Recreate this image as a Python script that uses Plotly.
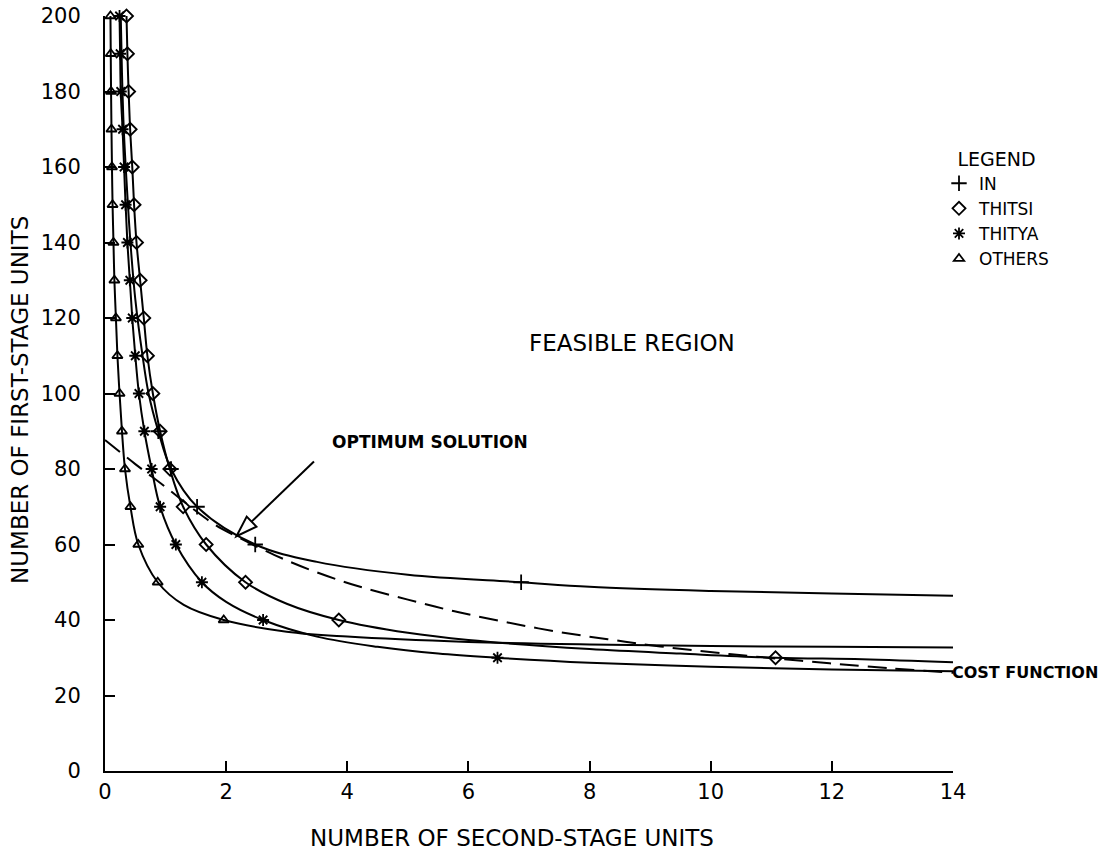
import plotly.graph_objects as go

# ---------------- data ----------------
others_mx = [0.09, 0.095, 0.10, 0.107, 0.115, 0.125, 0.14, 0.155, 0.18, 0.205, 0.24, 0.28, 0.33, 0.42, 0.55, 0.87, 1.96]
others_my = [200, 190, 180, 170, 160, 150, 140, 130, 120, 110, 100, 90, 80, 70, 60, 50, 40]
others_tx = [1.3, 3.0, 4.0, 6.0, 8.0, 10.0, 12.0, 14.0]
others_ty = [44.0, 36.9, 35.6, 34.2, 33.5, 33.1, 32.9, 32.7]

thitya_mx = [0.24, 0.25, 0.26, 0.29, 0.315, 0.34, 0.37, 0.41, 0.45, 0.50, 0.56, 0.65, 0.77, 0.91, 1.17, 1.60, 2.61, 6.48]
thitya_my = [200, 190, 180, 170, 160, 150, 140, 130, 120, 110, 100, 90, 80, 70, 60, 50, 40, 30]
thitya_tx = [2.0, 3.5, 4.5, 5.5, 8.0, 10.0, 12.0, 14.0]
thitya_ty = [44.8, 35.6, 32.9, 31.1, 28.7, 27.6, 26.9, 26.4]

thitsi_mx = [0.355, 0.37, 0.39, 0.415, 0.45, 0.48, 0.52, 0.58, 0.64, 0.70, 0.79, 0.91, 1.07, 1.29, 1.67, 2.32, 3.86, 11.07]
thitsi_my = [200, 190, 180, 170, 160, 150, 140, 130, 120, 110, 100, 90, 80, 70, 60, 50, 40, 30]
thitsi_tx = [3.0, 5.0, 6.0, 8.0, 9.5, 12.5, 14.0]
thitsi_ty = [44.3, 36.6, 34.7, 32.3, 31.1, 29.6, 28.8]

in_mx = [0.88, 1.09, 1.52, 2.48, 6.87]
in_my = [90, 80, 70, 60, 50]
in_tx = [0.26, 0.28, 0.31, 0.36, 0.42, 0.50, 0.62, 0.72, 3.5, 5.0, 8.0, 10.0, 12.0, 14.0]
in_ty = [200, 185, 170, 155, 140, 125, 110, 100, 55.4, 52.0, 48.8, 47.7, 47.0, 46.4]

cost_x = [0.0, 0.5, 1.0, 1.45, 1.8, 2.2, 2.8, 3.45, 4.17, 5.0, 5.77, 6.57, 7.43, 8.3, 9.17, 10.3, 11.5, 12.65, 14.0]
cost_y = [87.7, 81.3, 75.2, 69.5, 65.4, 61.9, 57.2, 52.9, 49.0, 45.4, 42.3, 39.6, 37.0, 34.9, 33.0, 31.0, 29.2, 27.6, 26.0]

x_ticks = [0, 2, 4, 6, 8, 10, 12, 14]
y_ticks = [0, 20, 40, 60, 80, 100, 120, 140, 160, 180, 200]

series = [
    ("IN", in_mx, in_my, in_tx, in_ty, "cross-thin-open", 11),
    ("THITSI", thitsi_mx, thitsi_my, thitsi_tx, thitsi_ty, "diamond-open", 10),
    ("THITYA", thitya_mx, thitya_my, thitya_tx, thitya_ty, "asterisk-open", 10),
    ("OTHERS", others_mx, others_my, others_tx, others_ty, "triangle-up-open", 9),
]

FONT = "DejaVu Sans"
W, H = 1116, 857
ML, MT = 105, 16
PW, PH = 848, 755
MR, MB = W - ML - PW, H - MT - PH
XR, YR = (0, 14), (0, 200)
kx = PW / (XR[1] - XR[0])
ky = PH / (YR[1] - YR[0])


def paper_x(px):  # page pixel -> paper fraction
    return (px - ML) / PW


def paper_y(py):
    return (H - MB - py) / PH


fig = go.Figure()

for name, mx, my, tx, ty, sym, sz in series:
    pts = sorted(zip(list(mx) + list(tx), list(my) + list(ty)), key=lambda p: (p[0], -p[1]))
    fig.add_trace(go.Scatter(
        x=[p[0] for p in pts], y=[p[1] for p in pts], mode="lines",
        line=dict(color="black", width=2, shape="spline", smoothing=1.0),
        showlegend=False, hoverinfo="skip"))

fig.add_trace(go.Scatter(
    x=cost_x, y=cost_y, mode="lines",
    line=dict(color="black", width=2, dash="19px,9px", shape="spline"),
    showlegend=False, hoverinfo="skip"))

for name, mx, my, tx, ty, sym, sz in series:
    fig.add_trace(go.Scatter(
        x=mx, y=my, mode="markers", name=name, cliponaxis=False,
        marker=dict(symbol=sym, size=sz, color="black",
                    line=dict(color="black", width=1.8))))

# arrow for optimum solution (open head)
tip = (2.17, 62.2)
tail = (3.45, 82.0)
tpx = (tip[0] * kx, tip[1] * ky)
tlx = (tail[0] * kx, tail[1] * ky)
dx, dy = tpx[0] - tlx[0], tpx[1] - tlx[1]
L = (dx ** 2 + dy ** 2) ** 0.5
ux, uy = dx / L, dy / L
hl, hw = 21, 7
bx, by = tpx[0] - hl * ux, tpx[1] - hl * uy
c1 = (bx + hw * uy, by - hw * ux)
c2 = (bx - hw * uy, by + hw * ux)
to_d = lambda p: (p[0] / kx, p[1] / ky)
b_d, c1_d, c2_d = to_d((bx, by)), to_d(c1), to_d(c2)
fig.add_shape(type="line", x0=tail[0], y0=tail[1], x1=b_d[0], y1=b_d[1],
              line=dict(color="black", width=2))
fig.add_shape(type="path",
              path=f"M {tip[0]},{tip[1]} L {c1_d[0]},{c1_d[1]} L {c2_d[0]},{c2_d[1]} Z",
              fillcolor="white", line=dict(color="black", width=2))

fig.add_annotation(xref="paper", yref="paper", x=paper_x(330), y=paper_y(442),
                   text="OPTIMUM SOLUTION", showarrow=False,
                   xanchor="left", yanchor="middle",
                   font=dict(family=FONT, size=17, color="black", weight="bold"))
fig.add_annotation(xref="paper", yref="paper", x=paper_x(632), y=paper_y(343),
                   text="FEASIBLE REGION", showarrow=False,
                   font=dict(family=FONT, size=23, color="black"))
fig.add_annotation(xref="paper", yref="paper", x=paper_x(950), y=paper_y(672),
                   text="COST FUNCTION", showarrow=False,
                   xanchor="left", yanchor="middle",
                   font=dict(family=FONT, size=16, color="black", weight="bold"))

# axis titles
fig.add_annotation(xref="paper", yref="paper", x=paper_x(512), y=paper_y(838),
                   text="NUMBER OF SECOND-STAGE UNITS", showarrow=False, yanchor="middle",
                   font=dict(family=FONT, size=23, color="black"))
fig.add_annotation(xref="paper", yref="paper", x=paper_x(20), y=paper_y(400),
                   text="NUMBER OF FIRST-STAGE UNITS", showarrow=False, textangle=-90,
                   xanchor="center", yanchor="middle",
                   font=dict(family=FONT, size=23, color="black"))

fig.update_layout(
    width=W, height=H,
    margin=dict(l=ML, r=MR, t=MT, b=MB, autoexpand=False),
    paper_bgcolor="white", plot_bgcolor="white",
    font=dict(family=FONT, color="black"),
    legend=dict(title=dict(text="LEGEND", side="top center", font=dict(family=FONT, size=19)),
                x=paper_x(939), y=paper_y(141),
                xanchor="left", yanchor="top", itemwidth=30,
                font=dict(family=FONT, size=17, color="black"),
                bgcolor="rgba(0,0,0,0)"),
    xaxis=dict(range=list(XR), tickvals=x_ticks, ticktext=[str(v) for v in x_ticks],
               showgrid=False, zeroline=False, showline=True, linecolor="black", linewidth=2,
               ticks="inside", ticklen=10, tickwidth=2, tickcolor="black", automargin=False,
               ticklabeloverflow="allow",
               tickfont=dict(family=FONT, size=21, color="black"), ticklabelstandoff=1),
    yaxis=dict(range=list(YR), tickvals=y_ticks, ticktext=[str(v) for v in y_ticks],
               showgrid=False, zeroline=False, showline=True, linecolor="black", linewidth=2,
               ticks="inside", ticklen=10, tickwidth=2, tickcolor="black", automargin=False,
               ticklabeloverflow="allow",
               tickfont=dict(family=FONT, size=21, color="black"), ticklabelstandoff=18),
)

# remove the browser's default 8px page margin so the figure fills the window exactly
fig.write_html("out.html", config={"displayModeBar": False},
               post_script="document.body.style.margin='0';")
